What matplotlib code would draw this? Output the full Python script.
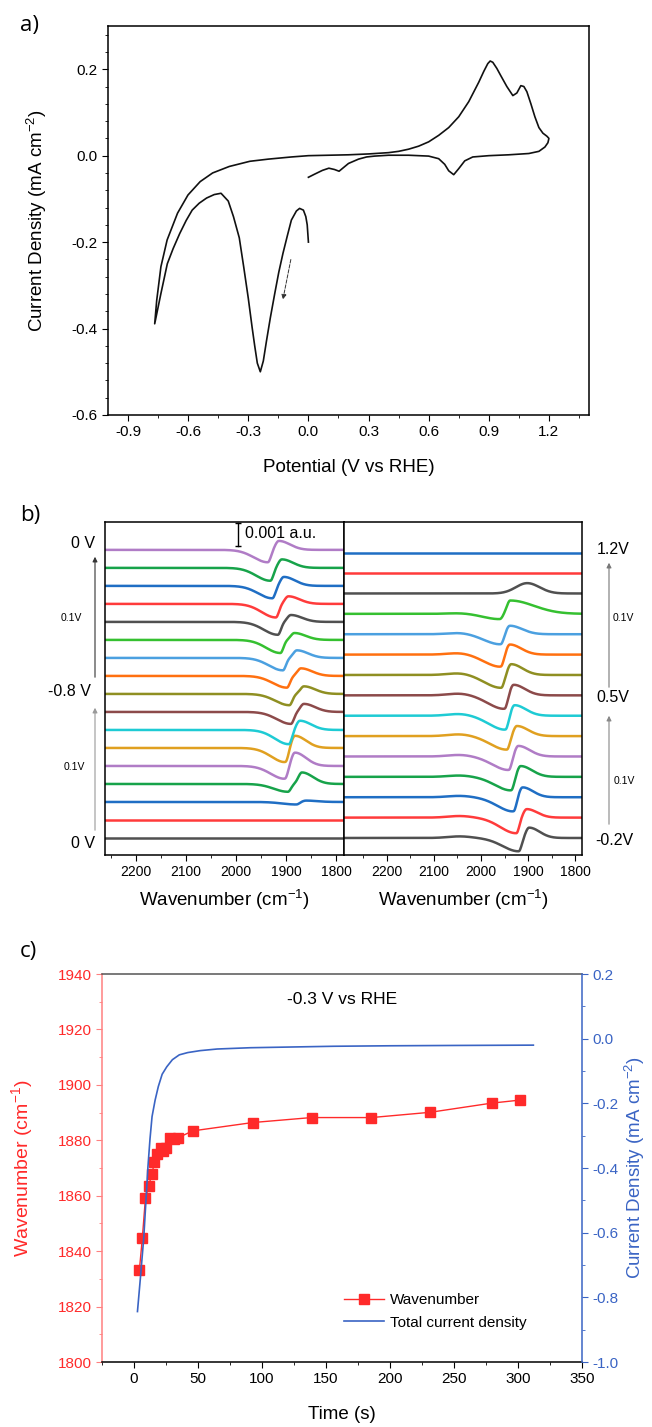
import numpy as np
import matplotlib.pyplot as plt
from matplotlib.ticker import MultipleLocator
from matplotlib.patches import FancyArrowPatch

plt.rcParams['font.family'] = ['Liberation Sans', 'DejaVu Sans']
plt.rcParams['mathtext.default'] = 'regular'
plt.rcParams['axes.unicode_minus'] = False
plt.rcParams['axes.linewidth'] = 1.1
plt.rcParams['xtick.direction'] = 'out'
plt.rcParams['ytick.direction'] = 'out'

W, H = 652, 1427

# ---------------- a) cyclic voltammogram (read from picture)
cv_potential = [0.00, -0.006, -0.013, -0.025, -0.044, -0.06, -0.085, -0.105, -0.127, -0.148,
                -0.168, -0.19, -0.209, -0.225, -0.24, -0.255, -0.268, -0.281, -0.30, -0.323,
                -0.345, -0.374, -0.40, -0.436, -0.47, -0.508, -0.545, -0.58, -0.61, -0.642,
                -0.675, -0.704, -0.736, -0.767,
                -0.757, -0.736, -0.705, -0.653, -0.601, -0.54, -0.478, -0.395, -0.292, -0.20,
                -0.085, 0.00, 0.10, 0.20, 0.30, 0.40, 0.45, 0.50, 0.55, 0.60, 0.65, 0.70, 0.75,
                0.80, 0.85, 0.875, 0.895, 0.907, 0.92, 0.94, 0.96, 0.99, 1.02, 1.04, 1.06, 1.075,
                1.09, 1.11, 1.13, 1.15, 1.17, 1.19, 1.20,
                1.195, 1.18, 1.15, 1.10, 1.00, 0.90, 0.82, 0.78, 0.75, 0.725, 0.70, 0.68, 0.65,
                0.60, 0.50, 0.40, 0.33, 0.29, 0.25, 0.20, 0.153, 0.13, 0.102, 0.07, 0.03, 0.00]
cv_current = [-0.20, -0.16, -0.141, -0.126, -0.122, -0.128, -0.149, -0.185, -0.226, -0.27,
              -0.319, -0.375, -0.428, -0.475, -0.50, -0.48, -0.44, -0.397, -0.33, -0.257,
              -0.19, -0.141, -0.105, -0.087, -0.09, -0.098, -0.11, -0.126, -0.15, -0.18,
              -0.215, -0.25, -0.319, -0.389,
              -0.335, -0.257, -0.195, -0.133, -0.091, -0.06, -0.04, -0.025, -0.013, -0.008,
              -0.003, 0.0, 0.001, 0.002, 0.004, 0.007, 0.010, 0.015, 0.022, 0.032, 0.047,
              0.065, 0.09, 0.125, 0.17, 0.195, 0.213, 0.219, 0.216, 0.202, 0.185, 0.16, 0.139,
              0.145, 0.162, 0.16, 0.148, 0.12, 0.09, 0.065, 0.052, 0.045, 0.040,
              0.03, 0.02, 0.01, 0.005, 0.002, 0.0, -0.003, -0.012, -0.03, -0.044, -0.035,
              -0.02, -0.007, -0.001, 0.001, 0.001, -0.001, -0.003, -0.008, -0.018, -0.036,
              -0.032, -0.029, -0.034, -0.043, -0.05]

# ---------------- b) IR spectra, band parameters read per trace (bottom -> top)
left_potential = [0.0, -0.1, -0.2, -0.3, -0.4, -0.5, -0.6, -0.7, -0.8,
                  -0.7, -0.6, -0.5, -0.4, -0.3, -0.2, -0.1, 0.0]
left_dip_wn = [1900, 1900, 1879, 1896, 1902, 1901, 1894, 1890, 1893,
               1898, 1906, 1911, 1916, 1920, 1927, 1931, 1936]
left_dip_depth = [0.0, 0.0, 0.11, 0.34, 0.56, 0.62, 0.62, 0.52, 0.49,
                  0.51, 0.54, 0.57, 0.56, 0.59, 0.54, 0.56, 0.54]
left_peak_wn = [1880, 1880, 1860, 1868, 1882, 1882, 1872, 1864, 1864,
                1870, 1878, 1883, 1890, 1895, 1904, 1908, 1914]
left_peak_height = [0.0, 0.0, 0.06, 0.50, 0.58, 0.53, 0.40, 0.35, 0.33,
                    0.33, 0.33, 0.30, 0.30, 0.33, 0.39, 0.37, 0.39]

right_potential = [-0.2, -0.1, 0.0, 0.1, 0.2, 0.3, 0.4, 0.5, 0.6, 0.7, 0.8, 0.9, 1.0, 1.1, 1.2]
right_dip_wn = [1920, 1925, 1931, 1936, 1941, 1945, 1948, 1950, 1957, 1958, 1958, 1960, 1965, 1960, 1960]
right_dip_depth = [0.58, 0.68, 0.62, 0.59, 0.59, 0.59, 0.61, 0.59, 0.56, 0.53, 0.44, 0.23, 0.0, 0.0, 0.0]
right_peak_wn = [1898, 1903, 1912, 1916, 1921, 1924, 1929, 1931, 1936, 1939, 1939, 1938, 1902, 1900, 1900]
right_peak_height = [0.45, 0.37, 0.43, 0.47, 0.46, 0.44, 0.46, 0.46, 0.47, 0.44, 0.37, 0.58, 0.45, 0.0, 0.0]
right_peak_rise = [7, 7, 7, 7, 7, 7, 7, 7, 7, 7, 7, 7, 24, 7, 7]
right_peak_tail = [22, 22, 22, 24, 24, 24, 24, 24, 24, 24, 26, 50, 26, 20, 20]
right_hump = [0.07, 0.07, 0.06, 0.06, 0.07, 0.08, 0.08, 0.08, 0.08, 0.07, 0.06, 0.03, 0.0, 0.0, 0.0]

trace_colors = ['#505050', '#ff3b3b', '#1f6ec4', '#17a34a', '#b07cc6', '#e0a020',
                '#1ecbd4', '#8c4a4a', '#8f8f22', '#ff7010', '#4ba0e0', '#35c030']

# ---------------- c) chronoamperometry
time_s = [4.2, 6.5, 8.9, 11.5, 13.9, 16.0, 18.3, 20.9, 23.0, 25.0, 28.2, 31.3, 34.7,
          46.0, 92.7, 138.7, 185.5, 231.4, 279.3, 301.5]
wavenumber = [1833.2, 1844.6, 1859.0, 1863.5, 1867.8, 1872.0, 1875.0, 1877.3, 1876.0,
              1877.3, 1881.0, 1880.4, 1881.0, 1883.4, 1886.4, 1888.2, 1888.2, 1890.1,
              1893.4, 1894.5]
ct_time = [2.7, 5.0, 7.6, 9.5, 10.9, 12.5, 14.1, 16.5, 19.0, 22.0, 25.6, 30.0, 35.4,
           42.0, 51.7, 65.0, 90.9, 120.0, 156.0, 200.0, 250.0, 312.0]
ct_current = [-0.844, -0.74, -0.617, -0.49, -0.396, -0.31, -0.241, -0.19, -0.148, -0.11,
              -0.087, -0.065, -0.05, -0.043, -0.037, -0.032, -0.028, -0.026, -0.0235,
              -0.022, -0.021, -0.02]


def band(wn, center, amp, w_hi, w_lo):
    w = np.where(wn > center, w_hi, w_lo)
    return amp * np.exp(-0.5 * ((wn - center) / w) ** 2)


def box(l, t, r, b):
    return [l / W, 1 - b / H, (r - l) / W, (b - t) / H]


def fx(x):
    return x / W


def fy(y):
    return 1 - y / H


fig = plt.figure(figsize=(W / 100, H / 100), dpi=100)

# ================= panel a
ax = fig.add_axes(box(108, 26, 589, 415))
ax.plot(cv_potential, cv_current, color='#111111', lw=1.2)
ax.annotate('', xy=(-0.13, -0.339), xytext=(-0.085, -0.234),
            arrowprops=dict(arrowstyle='-|>', ls='--', lw=0.7, color='#333333', mutation_scale=7))
ax.set_xlim(-1.0, 1.4)
ax.set_ylim(-0.6, 0.3)
ax.set_xticks([-0.9, -0.6, -0.3, 0.0, 0.3, 0.6, 0.9, 1.2])
ax.xaxis.set_minor_locator(MultipleLocator(0.15))
ax.set_yticks([-0.6, -0.4, -0.2, 0.0, 0.2])
ax.yaxis.set_minor_locator(MultipleLocator(0.04))
ax.tick_params(which='major', length=4, labelsize=11)
ax.tick_params(which='minor', length=2.5)
ax.set_xlabel('Potential (V vs RHE)', fontsize=13.5, labelpad=14)
ax.set_ylabel('Current Density (mA cm$^{-2}$)', fontsize=13.5, labelpad=16)
fig.text(fx(20), fy(26), 'a)', fontsize=16, family=['Open Sans', 'DejaVu Sans'], va='center')

# ================= panel b
ylim_b = (-0.74, 13.74)
axl = fig.add_axes(box(105, 522, 344, 855))
axr = fig.add_axes(box(344, 522, 582, 855))

wn_l = np.arange(2262, 1783, -1.0)
left_step = 0.783
for i in range(len(left_potential)):
    y = (i * left_step
         - band(wn_l, left_dip_wn[i], left_dip_depth[i], 28, 6)
         + band(wn_l, left_peak_wn[i], left_peak_height[i], 7, 22))
    axl.plot(wn_l, y, color=trace_colors[i % 12], lw=1.8)

wn_r = np.arange(2292, 1784, -1.0)
right_step = 0.886
for i in range(len(right_potential)):
    y = (i * right_step
         + band(wn_r, 2045, right_hump[i], 25, 25)
         - band(wn_r, right_dip_wn[i], right_dip_depth[i], 34, 6)
         + band(wn_r, right_peak_wn[i], right_peak_height[i], right_peak_rise[i], right_peak_tail[i]))
    axr.plot(wn_r, y, color=trace_colors[i % 12], lw=1.8)

axl.set_xlim(2261, 1784)
axr.set_xlim(2290, 1786)
for a in (axl, axr):
    a.set_ylim(*ylim_b)
    a.set_xticks([2200, 2100, 2000, 1900, 1800])
    a.xaxis.set_minor_locator(MultipleLocator(50))
    a.tick_params(axis='y', left=False, labelleft=False)
    a.tick_params(which='major', length=4, labelsize=10)
    a.tick_params(which='minor', length=2.5)
    a.set_xlabel('Wavenumber (cm$^{-1}$)', fontsize=13.5, labelpad=6)

# scale bar
axl.plot([1995, 1995], [12.7, 13.7], color='black', lw=1.0)
axl.plot([1995, 1995], [12.7, 13.7], ls='none', marker='_', ms=5, mew=1.0, color='black')
axl.text(1982, 13.25, '0.001 a.u.', fontsize=11.5, va='center', ha='left')

fig.text(fx(20), fy(515), 'b)', fontsize=16, family=['Open Sans', 'DejaVu Sans'], va='center')

# side labels
for txt, x, y, fs in [('0 V', 95, 543, 11.5), ('0.1V', 82, 618, 7.5), ('-0.8 V', 91, 692, 11.5),
                      ('0.1V', 85, 767, 7.5), ('0 V', 95, 843, 11.5)]:
    fig.text(fx(x), fy(y), txt, fontsize=fs, ha='right', va='center')
for txt, x, y, fs in [('1.2V', 597, 550, 11.5), ('0.1V', 613, 618, 7.5), ('0.5V', 596, 698, 11.5),
                      ('0.1V', 614, 781, 7.5), ('-0.2V', 595, 840, 11.5)]:
    fig.text(fx(x), fy(y), txt, fontsize=fs, ha='left', va='center')

for x, y0, y1, col in [(95, 680, 554, '#333333'), (95, 833, 705, '#999999'),
                       (609, 690, 560, '#777777'), (609, 827, 713, '#888888')]:
    fig.add_artist(FancyArrowPatch((fx(x), fy(y0)), (fx(x), fy(y1)), transform=fig.transFigure,
                                   arrowstyle='-|>', mutation_scale=7, lw=0.8, color=col))

# ================= panel c
red = '#ff2a2a'
blue = '#3a64c4'
axc = fig.add_axes(box(102, 974, 582, 1362))
axc.plot(time_s, wavenumber, color=red, lw=1.0, marker='s', ms=7, mec=red, mfc=red,
         label='Wavenumber')
axc.set_xlim(-25, 350)
axc.set_ylim(1800, 1940)
axc.xaxis.set_major_locator(MultipleLocator(50))
axc.xaxis.set_minor_locator(MultipleLocator(25))
axc.yaxis.set_major_locator(MultipleLocator(20))
axc.yaxis.set_minor_locator(MultipleLocator(10))
axc.tick_params(which='major', length=4, labelsize=11)
axc.tick_params(which='minor', length=2.5)
axc.tick_params(axis='y', which='both', colors='#ff8080', labelcolor=red)
axc.spines['left'].set_color('#ff8080')
axc.spines['top'].set_color('#555555')
axc.spines['right'].set_visible(False)
axc.set_xlabel('Time (s)', fontsize=13.5, labelpad=14)
axc.set_ylabel('Wavenumber (cm$^{-1}$)', fontsize=14, color=red, labelpad=16)

axc2 = axc.twinx()
axc2.plot(ct_time, ct_current, color=blue, lw=1.2, label='Total current density')
axc2.set_ylim(-1.0, 0.2)
axc2.yaxis.set_major_locator(MultipleLocator(0.2))
axc2.yaxis.set_minor_locator(MultipleLocator(0.1))
axc2.tick_params(which='major', length=4, labelsize=11, colors=blue)
axc2.tick_params(which='minor', length=2.5, colors=blue)
axc2.spines['right'].set_color(blue)
for s in ('left', 'top', 'bottom'):
    axc2.spines[s].set_visible(False)
axc2.set_ylabel('Current Density (mA cm$^{-2}$)', fontsize=13.5, color=blue, labelpad=3)

h1, l1 = axc.get_legend_handles_labels()
h2, l2 = axc2.get_legend_handles_labels()
axc2.legend(h1 + h2, l1 + l2, loc='upper left', bbox_to_anchor=((338 - 102) / 480, (1362 - 1287) / 388),
            frameon=False, fontsize=11, handlelength=2.6, handletextpad=0.4, labelspacing=0.55,
            borderaxespad=0)

axc.text(0.5, (1362 - 999) / 388, '-0.3 V vs RHE', transform=axc.transAxes, fontsize=12.5,
         ha='center', va='center')
fig.text(fx(20), fy(952), 'c)', fontsize=16, family=['Open Sans', 'DejaVu Sans'], va='center')

fig.savefig('out.png', dpi=100)
